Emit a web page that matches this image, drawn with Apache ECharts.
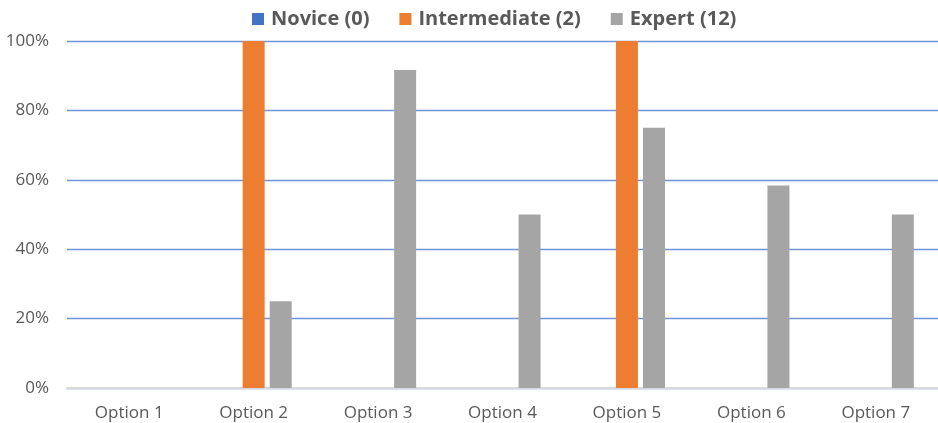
<!DOCTYPE html>
<html>
<head>
<meta charset="utf-8">
<script src="https://cdn.jsdelivr.net/npm/echarts@6/dist/echarts.min.js"></script>
<style>
  html, body { margin: 0; padding: 0; background: #fff; }
  #chart { width: 938px; height: 423px; }
</style>
</head>
<body>
<div id="chart"></div>
<script>
// data (percent of respondents)
const options = ["Option 1", "Option 2", "Option 3", "Option 4", "Option 5", "Option 6", "Option 7"];
const novice = [0, 0, 0, 0, 0, 0, 0];
const intermediate = [0, 100, 0, 0, 100, 0, 0];
const expert = [0, 25, 91.67, 50, 75, 58.33, 50];
const seriesNames = ["Novice (0)", "Intermediate (2)", "Expert (12)"];
const colors = ["#4472c4", "#ed7d31", "#a5a5a5"];

const font = "'Open Sans', 'Liberation Sans', sans-serif";
const chart = echarts.init(document.getElementById("chart"));

chart.setOption({
  animation: false,
  color: colors,
  legend: {
    top: 4,
    left: 247,
    itemWidth: 12,
    itemHeight: 12,
    itemGap: 30,
    icon: "rect",
    textStyle: { fontFamily: font, fontSize: 20, fontWeight: "bold", color: "#595959", padding: [0, 0, 0, 2] },
  },
  grid: { left: 67, right: 0, top: 41, bottom: 35 },
  xAxis: {
    type: "category",
    data: options,
    axisTick: { show: false },
    axisLine: { lineStyle: { color: "#d9d9d9", width: 2 } },
    axisLabel: { fontFamily: font, fontSize: 17, color: "#595959", margin: 17 },
  },
  yAxis: {
    type: "value",
    min: 0,
    max: 100,
    interval: 20,
    axisLine: { show: false },
    axisTick: { show: false },
    axisLabel: { fontFamily: font, fontSize: 17, color: "#595959", margin: 18, formatter: "{value}%" },
    splitLine: { lineStyle: { color: "#6f95d8", width: 1.3 } },
  },
  series: [
    { name: seriesNames[0], type: "bar", data: novice, barWidth: 22, barGap: "23%" },
    { name: seriesNames[1], type: "bar", data: intermediate, barWidth: 22, barGap: "23%" },
    { name: seriesNames[2], type: "bar", data: expert, barWidth: 22, barGap: "23%" },
  ],
});
</script>
</body>
</html>
